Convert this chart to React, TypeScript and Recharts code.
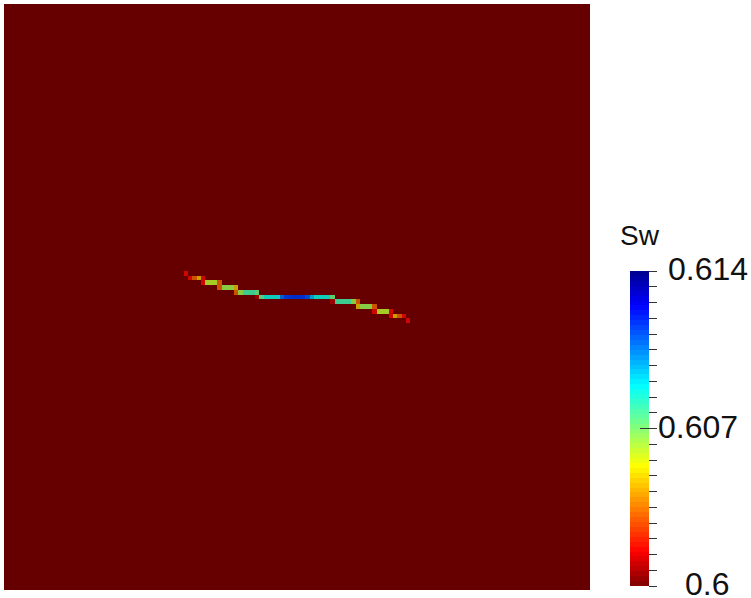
import React from 'react';
import { ScatterChart, XAxis, YAxis, ReferenceArea, Customized } from 'recharts';

// Mesh size of the saturation field (columns x rows)
const GRID_COLS = 140;
const GRID_ROWS = 123;

// Colour range of the Sw legend
const SW_MIN = 0.6;
const SW_MAX = 0.614;
const BACKGROUND_SW = 0.6;

// Fracture cells: column, row (from top) and water saturation
const cellCol = [
  43,
  44, 45, 46, 47,
  47, 48, 49, 50, 51,
  51, 52, 53, 54, 55,
  55, 56, 57, 58, 59, 60,
  60, 61, 62, 63, 64, 65, 66, 67, 68, 69, 70, 71, 72, 73, 74, 75, 76, 77, 78,
  78, 79, 80, 81, 82, 83, 84,
  84, 85, 86, 87, 88,
  88, 89, 90, 91, 92,
  92, 93, 94, 95,
  96,
];
const cellRow = [
  56,
  57, 57, 57, 57,
  58, 58, 58, 58, 58,
  59, 59, 59, 59, 59,
  60, 60, 60, 60, 60, 60,
  61, 61, 61, 61, 61, 61, 61, 61, 61, 61, 61, 61, 61, 61, 61, 61, 61, 61, 61,
  62, 62, 62, 62, 62, 62, 62,
  63, 63, 63, 63, 63,
  64, 64, 64, 64, 64,
  65, 65, 65, 65,
  66,
];
const cellSw = [
  0.6017,
  0.6017, 0.6031, 0.6045, 0.6017,
  0.6017, 0.606, 0.606, 0.606, 0.6031,
  0.6031, 0.6065, 0.6065, 0.6065, 0.6045,
  0.6031, 0.6065, 0.6078, 0.6078, 0.6078, 0.6072,
  0.6008, 0.6074, 0.6086, 0.6086, 0.6086, 0.6086, 0.6108, 0.6115, 0.6116, 0.6117, 0.6117, 0.6116, 0.6112, 0.6097, 0.6086, 0.6086, 0.6086, 0.6086, 0.6072,
  0.6008, 0.6078, 0.6078, 0.6078, 0.6078, 0.6065, 0.6031,
  0.6045, 0.6065, 0.6065, 0.6065, 0.6031,
  0.6017, 0.606, 0.606, 0.606, 0.6017,
  0.6017, 0.6045, 0.6031, 0.6017,
  0.6017,
];

// Legend ticks (21 marks, 3 labelled)
const legendTicks = Array.from({ length: 21 }, (_, i) => +(SW_MIN + (i * (SW_MAX - SW_MIN)) / 20).toFixed(5));
const legendLabels: Record<string, { text: string; dx: number }> = {
  '0.6': { text: '0.6', dx: 36 },
  '0.607': { text: '0.607', dx: 9 },
  '0.614': { text: '0.614', dx: 19 },
};

// ParaView "Jet" preset, reversed so low Sw is dark red
const JET: [number, number, number, number][] = [
  [-1, 0, 0, 0.5625],
  [-0.777778, 0, 0, 1],
  [-0.269841, 0, 1, 1],
  [-0.015873, 0.5, 1, 0.5],
  [0.238095, 1, 1, 0],
  [0.777778, 1, 0, 0],
  [1, 0.5, 0, 0],
];

function swColor(v: number, shade = 1) {
  const t = Math.min(1, Math.max(0, (SW_MAX - v) / (SW_MAX - SW_MIN)));
  const p = 2 * t - 1;
  let k = 0;
  while (k < JET.length - 2 && p > JET[k + 1][0]) k++;
  const a = JET[k];
  const b = JET[k + 1];
  const f = (p - a[0]) / (b[0] - a[0]);
  const c = [1, 2, 3].map((i) => Math.round(255 * shade * (a[i] + f * (b[i] - a[i]))));
  return `rgb(${c[0]},${c[1]},${c[2]})`;
}

const LIGHT = 0.8; // surface lighting darkens the rendered field
const FONT = '"Liberation Sans", Arial, sans-serif';

const cells = cellCol.map((c, i) => ({ col: c, row: cellRow[i], sw: cellSw[i] }));

const bands = Array.from({ length: 64 }, (_, i) => {
  const lo = SW_MIN + (i * (SW_MAX - SW_MIN)) / 64;
  const hi = SW_MIN + ((i + 1) * (SW_MAX - SW_MIN)) / 64;
  return { x: 0.5, lo, hi, mid: (lo + hi) / 2, color: swColor((lo + hi) / 2) };
});

function LegendTick(props: any) {
  const { x, y, payload } = props;
  const key = String(+Number(payload.value).toFixed(4));
  const label = legendLabels[key];
  const mid = key === '0.607';
  return (
    <g>
      <line x1={mid ? x - 9 : x} x2={x + 8} y1={y} y2={y} stroke="#333" strokeWidth={1} />
      {label && (
        <text x={x + label.dx} y={y + 9} fontSize={32} fontFamily={FONT} fill="#111" textAnchor="start">
          {label.text}
        </text>
      )}
    </g>
  );
}

export default function App() {
  return (
    <div style={{ position: 'absolute', left: 0, top: 0, width: 751, height: 598, background: '#fff' }}>
      <div style={{ position: 'absolute', left: 0, top: 0, shapeRendering: 'crispEdges' } as React.CSSProperties}>
        <ScatterChart width={594} height={594} margin={{ top: 4, right: 4, bottom: 4, left: 4 }} data={cells}>
          <XAxis type="number" dataKey="col" domain={[0, GRID_COLS]} hide allowDataOverflow />
          <YAxis type="number" dataKey="row" domain={[0, GRID_ROWS]} reversed hide allowDataOverflow />
          <ReferenceArea
            x1={0}
            x2={GRID_COLS}
            y1={0}
            y2={GRID_ROWS}
            fill={swColor(BACKGROUND_SW, LIGHT)}
            fillOpacity={1}
            stroke="none"
          />
          {cells.map((d, i) => (
            <ReferenceArea
              key={i}
              x1={d.col}
              x2={d.col + 1}
              y1={d.row}
              y2={d.row + 1}
              fill={swColor(d.sw, LIGHT)}
              fillOpacity={1}
              stroke="none"
            />
          ))}
        </ScatterChart>
      </div>
      <div style={{ position: 'absolute', left: 600, top: 0, shapeRendering: 'crispEdges' } as React.CSSProperties}>
        <ScatterChart width={151} height={598} margin={{ top: 271, right: 0, bottom: 12, left: 30 }} data={bands}>
          <XAxis type="number" dataKey="x" domain={[0, 1]} hide allowDataOverflow />
          <YAxis
            type="number"
            dataKey="mid"
            orientation="right"
            width={102}
            domain={[SW_MIN, SW_MAX]}
            ticks={legendTicks}
            interval={0}
            tickSize={0}
            tickMargin={0}
            axisLine={false}
            tickLine={false}
            tick={<LegendTick />}
            allowDataOverflow
          />
          {bands.map((b, i) => (
            <ReferenceArea key={i} x1={0} x2={1} y1={b.lo} y2={b.hi} fill={b.color} fillOpacity={1} stroke="none" />
          ))}
          <Customized
            component={() => (
              <text x={20} y={245} fontSize={28} fontFamily={FONT} fill="#111" style={{ shapeRendering: 'auto' }}>
                Sw
              </text>
            )}
          />
        </ScatterChart>
      </div>
    </div>
  );
}
